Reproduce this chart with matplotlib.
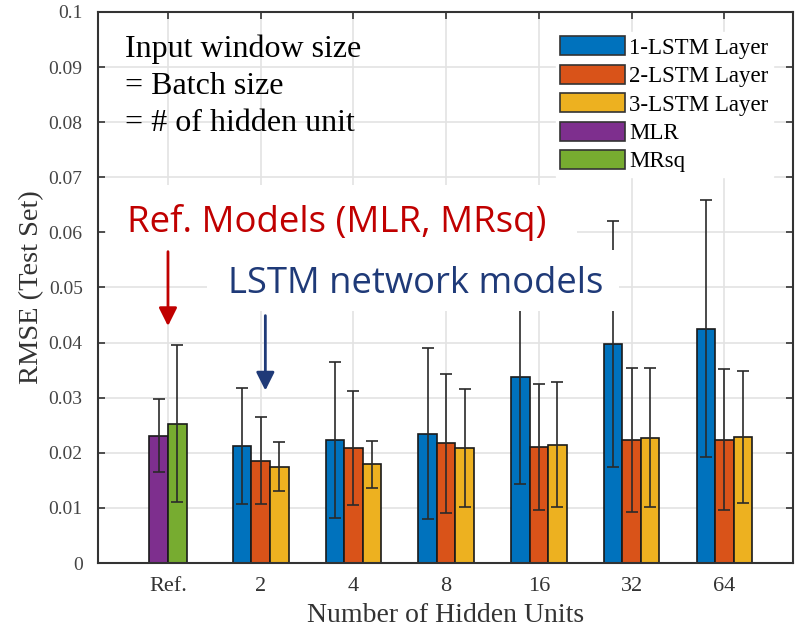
import matplotlib
matplotlib.use('Agg')
import matplotlib.pyplot as plt
import numpy as np
from matplotlib.patches import Rectangle, Patch

categories = ['Ref.', '2', '4', '8', '16', '32', '64']
ref_names = ['MLR', 'MRsq']
ref_mean = [0.0231, 0.0253]
ref_err = [0.0066, 0.0143]
lstm_names = ['1-LSTM Layer', '2-LSTM Layer', '3-LSTM Layer']
lstm1 = [0.0212, 0.0223, 0.0235, 0.0338, 0.0397, 0.0425]
lstm1_err = [0.0105, 0.0141, 0.0156, 0.0194, 0.0223, 0.0233]
lstm2 = [0.0186, 0.0209, 0.0217, 0.0211, 0.0223, 0.0224]
lstm2_err = [0.0079, 0.0103, 0.0126, 0.0114, 0.0130, 0.0128]
lstm3 = [0.0175, 0.0179, 0.0209, 0.0215, 0.0227, 0.0229]
lstm3_err = [0.0044, 0.0042, 0.0107, 0.0114, 0.0126, 0.0120]
yticks = [0, 0.01, 0.02, 0.03, 0.04, 0.05, 0.06, 0.07, 0.08, 0.09, 0.1]
ytick_labels = ['0', '0.01', '0.02', '0.03', '0.04', '0.05', '0.06', '0.07', '0.08', '0.09', '0.1']

lstm_colors = ['#0072BD', '#D95319', '#EDB120']
ref_colors = ['#7E2F8E', '#77AC30']
serif = 'Liberation Serif'
sans = 'Open Sans'

fig = plt.figure(figsize=(8.01, 6.28), dpi=100)
ax = fig.add_axes([0.1223, 0.1035, 0.8683, 0.8774])
ax.set_axisbelow(True)

w = 0.2
bar_kw = dict(width=w, edgecolor='#1a1a1a', linewidth=1.2, zorder=2)
err_kw = dict(ecolor='#2a2a2a', elinewidth=1.2, capsize=4, capthick=1.2)

x = np.arange(1, len(categories) + 1)
# reference models
for i in range(2):
    ax.bar(x[0] + (i - 0.5) * w, ref_mean[i], yerr=ref_err[i], color=ref_colors[i],
           error_kw=err_kw, **bar_kw)
# LSTM models
lstm_vals = [lstm1, lstm2, lstm3]
lstm_errs = [lstm1_err, lstm2_err, lstm3_err]
for j in range(3):
    ax.bar(x[1:] + (j - 1) * w, lstm_vals[j], yerr=lstm_errs[j], color=lstm_colors[j],
           error_kw=err_kw, **bar_kw)

ax.set_xlim(0.245, 7.745)
ax.set_ylim(0, 0.1)
ax.set_xticks(x)
ax.set_xticklabels(categories, fontfamily=serif, fontsize=16, color='#333333')
ax.set_yticks(yticks)
ax.set_yticklabels(ytick_labels, fontfamily=serif, fontsize=14, color='#444444')
ax.tick_params(axis='both', direction='in', length=5, width=1.2, color='#333333',
               top=True, right=True)
ax.tick_params(axis='y', pad=11)
ax.tick_params(axis='x', pad=10)
ax.grid(True, color='#e3e3e3', linewidth=1.2)
for s in ax.spines.values():
    s.set_color('#333333')
    s.set_linewidth(1.5)

ax.set_xlabel('Number of Hidden Units', fontfamily=serif, fontsize=20, color='#333333', labelpad=5)
ax.set_ylabel('RMSE (Test Set)', fontfamily=serif, fontsize=20.5, color='#333333', labelpad=3)

# white boxes behind the annotations
ax.add_patch(Rectangle((0.335, 0.0568), 5.08, 0.0118, facecolor='white', edgecolor='none', zorder=4))
ax.add_patch(Rectangle((1.42, 0.0457), 4.44, 0.0111, facecolor='white', edgecolor='none', zorder=4))

ax.text(0.54, 0.0960, 'Input window size\n= Batch size\n= # of hidden unit', fontfamily=serif,
        fontsize=23, va='top', ha='left', linespacing=1.38, zorder=5)
ax.text(0.561, 0.0601, 'Ref. Models (MLR, MRsq)', fontfamily=sans, fontsize=26.4,
        color='#C00000', va='baseline', ha='left', zorder=5)
ax.text(1.65, 0.049, 'LSTM network models', fontfamily=sans, fontsize=26.2,
        color='#1F3A78', va='baseline', ha='left', zorder=5)
ax.annotate('', xy=(1.0, 0.0425), xytext=(1.0, 0.057),
            arrowprops=dict(arrowstyle='-|>,head_width=0.55,head_length=1.1', color='#C00000', lw=2),
            zorder=5)
ax.annotate('', xy=(2.05, 0.0308), xytext=(2.05, 0.0454),
            arrowprops=dict(arrowstyle='-|>,head_width=0.55,head_length=1.1', color='#1F3A78', lw=2),
            zorder=5)

handles = [Patch(facecolor=c, edgecolor='#333333', linewidth=1.2) for c in lstm_colors + ref_colors]
leg = ax.legend(handles, lstm_names + ref_names, loc='upper right', bbox_to_anchor=(0.9705, 0.964),
                borderaxespad=0, frameon=True, fancybox=False, framealpha=1, edgecolor='white',
                prop={'family': serif, 'size': 16.5}, handlelength=2.8, handleheight=0.9,
                handletextpad=0.2, labelspacing=0.26, borderpad=0.2)
leg.set_zorder(6)

fig.savefig('out.png', dpi=100)
